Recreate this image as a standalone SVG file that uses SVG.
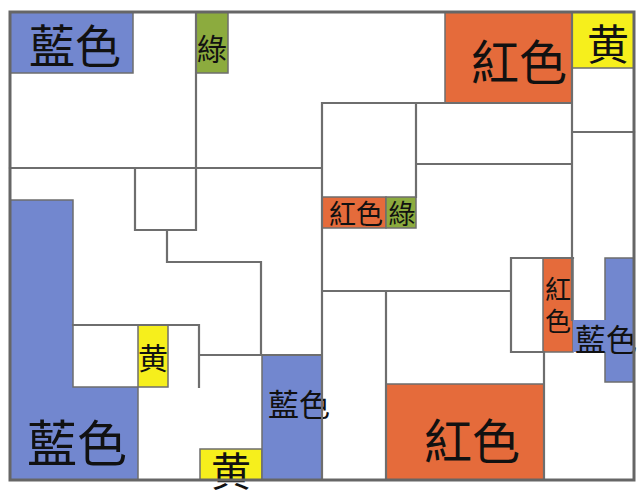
<svg xmlns="http://www.w3.org/2000/svg" width="638" height="499" viewBox="0 0 638 499">
<style>
.ln{stroke:#6e6e6e;stroke-width:2.2;fill:none;stroke-linecap:square}
.fr{stroke:#666;stroke-width:3;fill:none}
.b{fill:#7287cf;stroke:#6e6e6e;stroke-width:1.5}
.r{fill:#e56b3b;stroke:#6e6e6e;stroke-width:1.5}
.g{fill:#8cab3e;stroke:#6e6e6e;stroke-width:1.5}
.y{fill:#f6ef1c;stroke:#6e6e6e;stroke-width:1.5}
text{font-family:"Noto Sans CJK TC","Noto Sans CJK JP",sans-serif;fill:#111;text-anchor:middle;dominant-baseline:central}
.vt{writing-mode:vertical-rl;letter-spacing:6px}
</style>
<rect x="0" y="0" width="638" height="499" fill="#fff"/>
<g id="regions">
<g id="blue-top-left"><rect class="b" x="10" y="12" width="123" height="61"/><text x="75" y="43" font-size="46">藍色</text></g>
<g id="green-top"><rect class="g" x="196" y="12" width="32" height="61"/><text x="212" y="47" font-size="30">綠</text></g>
<g id="red-top-right"><rect class="r" x="445" y="12" width="127" height="91"/><text x="519" y="59" font-size="48">紅色</text></g>
<g id="yellow-top-right"><rect class="y" x="572" y="12" width="62" height="56"/><text x="608" y="41" font-size="42">黄</text></g>
<g id="red-small"><rect class="r" x="322" y="197" width="64" height="31"/><text x="356" y="212" font-size="27">紅色</text></g>
<g id="green-small"><rect class="g" x="386" y="197" width="30" height="31"/><text x="402" y="212" font-size="27">綠</text></g>
<g id="blue-left"><polygon class="b" points="10,200 73,200 73,387 138,387 138,480 10,480"/><text x="77" y="440" font-size="50">藍色</text></g>
<g id="yellow-small"><rect class="y" x="138" y="325" width="30" height="62"/><text x="153" y="356" font-size="30">黄</text></g>
<g id="yellow-bottom"><rect class="y" x="200" y="449" width="62" height="31"/><text x="231" y="469" font-size="40">黄</text></g>
<g id="blue-middle"><rect class="b" x="262" y="355" width="60" height="125"/><text x="299" y="402" font-size="31">藍色</text></g>
<g id="red-narrow"><rect class="r" x="543" y="258" width="30" height="94"/><text class="vt" x="558" y="308" font-size="26">紅色</text></g>
<g id="blue-right"><rect class="b" x="605" y="258" width="29" height="124"/><rect x="573" y="320" width="33" height="32" fill="#7287cf"/><text x="606" y="337" font-size="31">藍色</text></g>
<g id="red-bottom"><rect class="r" x="386" y="384" width="158" height="96"/><text x="472" y="438" font-size="48">紅色</text></g>
</g>
<g id="walls">
<path class="ln" d="M196,12V230 M10,168H322 M135,168V230H196 M167,230V262H261V355 M199,355H322 M73,325H199V387 M322,103V480 M322,103H572 M572,12V320 M572,132H634 M416,103V197 M416,164H572 M322,291H511 M511,352V258H573 M511,352H543 M386,291V480 M544,352V480"/>
<rect class="fr" x="10" y="12" width="624" height="468"/>
</g>
</svg>
